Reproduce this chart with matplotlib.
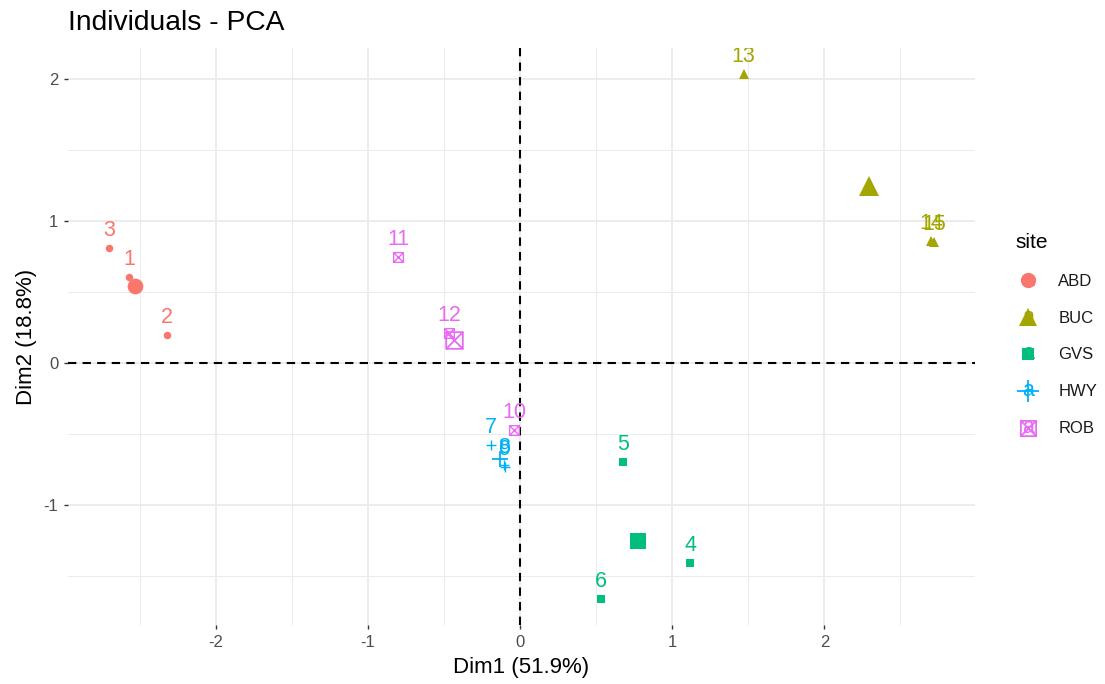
import matplotlib
matplotlib.use("Agg")
import matplotlib.pyplot as plt
import matplotlib.transforms as mtransforms
import numpy as np
import pandas as pd
from matplotlib.lines import Line2D
from matplotlib.path import Path
from matplotlib.text import Text
from matplotlib.legend_handler import HandlerBase

plt.rcParams['font.family'] = ['Liberation Sans', 'DejaVu Sans']
plt.rcParams['axes.unicode_minus'] = False

# PCA individual coordinates (Dim1, Dim2), one row per sample
ids = ['1', '2', '3', '4', '5', '6', '7', '8', '9', '10', '11', '12', '13', '14', '15']
sites = ['ABD', 'ABD', 'ABD', 'GVS', 'GVS', 'GVS', 'HWY', 'HWY', 'HWY',
         'ROB', 'ROB', 'ROB', 'BUC', 'BUC', 'BUC']
dim1 = [-2.57, -2.32, -2.70, 1.12, 0.68, 0.53, -0.19, -0.105, -0.10,
        -0.04, -0.80, -0.465, 1.47, 2.70, 2.72]
dim2 = [0.61, 0.20, 0.81, -1.41, -0.70, -1.66, -0.58, -0.715, -0.73,
        -0.47, 0.75, 0.21, 2.04, 0.86, 0.85]

site_order = ['ABD', 'BUC', 'GVS', 'HWY', 'ROB']
site_colors = ['#F8766D', '#A3A500', '#00BF7D', '#00B0F6', '#E76BF3']

# square with a cross inside (like R's pch 7)
boxx = Path([(-1, -1), (1, -1), (1, 1), (-1, 1), (-1, -1), (1, 1), (-1, 1), (1, -1)],
            [Path.MOVETO, Path.LINETO, Path.LINETO, Path.LINETO, Path.LINETO,
             Path.LINETO, Path.MOVETO, Path.LINETO])
site_markers = ['o', '^', 's', '+', boxx]
point_sizes = [5.4, 7.5, 5.8, 7.5, 7.0]
mean_sizes = [11.3, 14.0, 11.3, 12.0, 12.0]
key_sizes = [11.0, 13.5, 8.5, 16.0, 11.0]

xlabel = 'Dim1 (51.9%)'
ylabel = 'Dim2 (18.8%)'

df = pd.DataFrame({'id': ids, 'site': sites, 'x': dim1, 'y': dim2})
centroids = df.groupby('site')[['x', 'y']].mean()

fig = plt.figure(figsize=(11.05, 6.84), dpi=100)
ax = fig.add_axes([68 / 1105, 1 - 625 / 684, 907 / 1105, 577 / 684])
ax.set_xlim(-2.97, 2.99)
ax.set_ylim(-1.845, 2.22)

for s in ax.spines.values():
    s.set_visible(False)
ax.set_xticks([-2, -1, 0, 1, 2])
ax.set_yticks([-1, 0, 1, 2])
ax.set_xticks(np.arange(-2.5, 3.0, 1.0), minor=True)
ax.set_yticks(np.arange(-1.5, 2.0, 1.0), minor=True)
ax.grid(True, which='major', color='#EBEBEB', lw=1.3)
ax.grid(True, which='minor', color='#EBEBEB', lw=0.7)
ax.set_axisbelow(True)
ax.tick_params(which='major', length=3, width=1, color='#333333',
               labelsize=12, labelcolor='#4D4D4D', pad=4)
ax.tick_params(which='minor', length=0)

ax.axhline(0, color='black', lw=1.5, ls=(0, (4, 3)), zorder=2)
ax.axvline(0, color='black', lw=1.5, ls=(0, (4, 3)), zorder=2)

label_shift = mtransforms.ScaledTranslation(0, 12 / 100, fig.dpi_scale_trans)
handles = []
for site, col, mk, ps, ms, ks in zip(site_order, site_colors, site_markers,
                                     point_sizes, mean_sizes, key_sizes):
    sub = df[df['site'] == site]
    unfilled = mk in ('+', boxx)
    face = 'none' if unfilled else col
    ax.plot(sub['x'], sub['y'], ls='none', marker=mk, ms=ps, color=col,
            mfc=face, mec=col, mew=1.0 if unfilled else 0, zorder=3)
    ax.plot([centroids.loc[site, 'x']], [centroids.loc[site, 'y']], ls='none',
            marker=mk, ms=ms, color=col, mfc=face, mec=col,
            mew=1.3 if unfilled else 0, zorder=3)
    for _, r in sub.iterrows():
        ax.text(r['x'], r['y'], r['id'], color=col, fontsize=15.5,
                ha='center', va='baseline', clip_on=True,
                transform=ax.transData + label_shift, zorder=4)
    handles.append(Line2D([], [], ls='none', marker=mk, ms=ks, color=col,
                          mfc=face, mec=col, mew=1.3 if unfilled else 0,
                          label=site))


class KeyWithText(HandlerBase):
    # legend key: the point glyph drawn over a small "a" like ggplot text keys
    def create_artists(self, legend, orig_handle, xdescent, ydescent,
                       width, height, fontsize, trans):
        cx = width / 2 - xdescent
        cy = height / 2 - ydescent
        txt = Text(cx, cy, 'a', color=orig_handle.get_color(), fontsize=15.5,
                   ha='center', va='center', transform=trans)
        mk = Line2D([cx], [cy])
        mk.update_from(orig_handle)
        mk.set_transform(trans)
        return [txt, mk]


leg = fig.legend(handles=handles, title='site', loc='upper left',
                 bbox_to_anchor=(1000 / 1105, 1 - 218 / 684), frameon=False,
                 fontsize=12, title_fontsize=15, handlelength=1.6,
                 handleheight=1.2, handletextpad=1.0, labelspacing=1.18,
                 alignment='left', handler_map={Line2D: KeyWithText()})
for t in leg.get_texts():
    t.set_color('#1A1A1A')

ax.set_xlabel(xlabel, fontsize=16, labelpad=5)
ax.set_ylabel(ylabel, fontsize=16, labelpad=5)
ax.set_title('Individuals - PCA', fontsize=20.3, loc='left', pad=13)

fig.savefig('out.png', dpi=100, facecolor='white')
